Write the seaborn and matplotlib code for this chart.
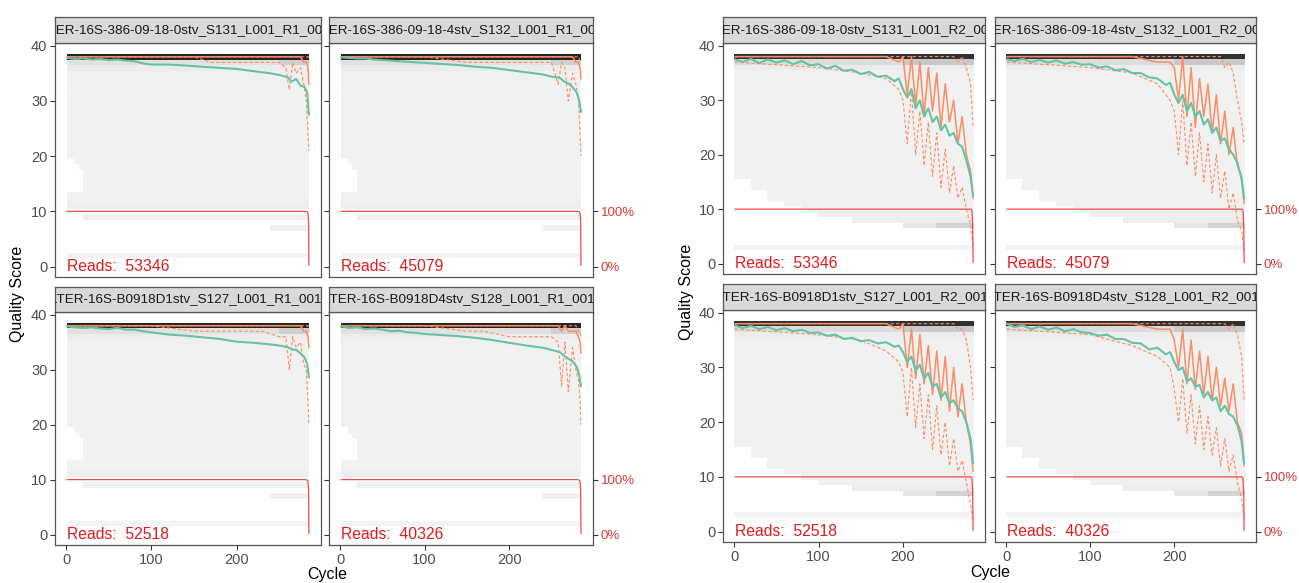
import matplotlib
matplotlib.use("Agg")
import matplotlib.pyplot as plt
import seaborn as sns

# ================== DATA ==================
SAMPLES_R1 = [
    "FILTER-16S-386-09-18-0stv_S131_L001_R1_001.fq",
    "FILTER-16S-386-09-18-4stv_S132_L001_R1_001.fq",
    "FILTER-16S-B0918D1stv_S127_L001_R1_001.fq",
    "FILTER-16S-B0918D4stv_S128_L001_R1_001.fq",
]
SAMPLES_R2 = [s.replace("_R1_", "_R2_") for s in SAMPLES_R1]
READS = [53346, 45079, 52518, 40326]

# mean quality per cycle (green line)
R1_CYCLES = [1, 10, 20, 30, 40, 50, 60, 70, 80, 90, 100, 120, 140, 160, 180,
             200, 220, 240, 250, 260, 265, 270, 275, 280, 283, 285]
R1_MEAN = [
    [37.8, 37.6, 37.7, 37.5, 37.6, 37.4, 37.5, 37.3, 37.2, 36.8, 36.6, 36.6, 36.4,
     36.2, 36.0, 35.8, 35.4, 35.0, 34.7, 34.3, 33.5, 34.0, 32.8, 32.5, 31.5, 27.5],
    [37.9, 37.8, 37.7, 37.7, 37.5, 37.4, 37.3, 37.2, 37.1, 37.0, 36.9, 36.7, 36.5,
     36.2, 36.0, 35.6, 35.2, 34.8, 34.4, 34.2, 33.5, 33.2, 32.5, 31.5, 30.0, 28.0],
    [37.9, 37.7, 37.6, 37.7, 37.5, 37.4, 37.6, 37.3, 37.3, 37.0, 36.8, 36.4, 36.2,
     35.9, 35.6, 35.1, 34.9, 34.6, 34.4, 34.1, 33.7, 33.6, 33.0, 32.2, 31.0, 28.6],
    [37.9, 37.6, 37.7, 37.4, 37.5, 37.3, 37.0, 37.1, 36.8, 36.7, 36.5, 36.3, 36.1,
     35.8, 35.4, 34.9, 34.4, 34.0, 33.6, 33.2, 32.5, 32.0, 31.5, 30.5, 29.0, 27.0],
]
# median / quartiles (orange lines)
R1_QCYC = [1, 50, 100, 150, 170, 200, 230, 250, 258, 262, 266, 270, 275, 279, 282, 284, 285]
R1_MEDIAN = [
    [38, 38, 38, 38, 38, 38, 38, 38, 38, 38, 38, 38, 38, 37, 37, 36, 33],
    [38, 38, 38, 38, 38, 38, 38, 38, 38, 38, 38, 38, 38, 37, 37, 36, 34],
    [38, 38, 38, 38, 38, 38, 38, 38, 38, 38, 38, 38, 38, 37, 37, 36, 34],
    [38, 38, 38, 38, 38, 38, 38, 38, 38, 37, 38, 37, 37, 37, 36, 35, 33],
]
R1_Q25 = [
    [38, 38, 38, 38, 37, 37, 37, 37, 36, 32, 37, 35, 36, 33, 30, 24, 21],
    [38, 38, 38, 37, 37, 37, 37, 37, 33, 37, 36, 30, 35, 33, 30, 24, 20],
    [38, 38, 38, 37, 37, 37, 37, 36, 36, 30, 36, 34, 35, 31, 30, 24, 20],
    [38, 38, 38, 37, 37, 36, 36, 36, 35, 27, 35, 26, 34, 30, 28, 24, 20],
]
R1_Q75 = [
    [38, 38, 38, 38, 38, 38, 38, 38, 38, 38, 38, 38, 38, 38, 38, 38, 37],
    [38, 38, 38, 38, 38, 38, 38, 38, 38, 38, 38, 38, 38, 38, 38, 37, 37],
    [38, 38, 38, 38, 38, 38, 38, 38, 38, 38, 38, 38, 38, 38, 38, 38, 37],
    [38, 38, 38, 38, 38, 38, 38, 38, 38, 38, 38, 38, 38, 38, 37, 37, 36],
]

R2_CYCLES = [1, 10, 20, 30, 40, 50, 60, 70, 80, 90, 100, 110, 120, 130, 140, 150,
             160, 170, 180, 190, 195, 200, 205, 210, 215, 220, 225, 230, 235, 240,
             245, 250, 255, 260, 265, 270, 275, 280, 283]
R2_MEAN = [
    [37.5, 37.0, 37.6, 36.8, 37.5, 36.9, 37.3, 36.6, 37.2, 36.4, 36.6, 35.8, 36.3,
     35.4, 35.6, 34.8, 35.2, 34.3, 34.5, 33.5, 34.0, 32.0, 30.5, 32.0, 28.5, 30.0,
     27.0, 28.5, 26.0, 27.0, 24.5, 25.5, 23.5, 24.0, 22.0, 21.5, 19.0, 16.0, 12.5],
    [37.5, 37.2, 37.6, 37.0, 37.4, 36.9, 37.3, 36.7, 37.0, 36.5, 36.6, 36.0, 36.2,
     35.5, 35.7, 35.0, 35.0, 34.2, 34.0, 32.8, 33.2, 31.0, 29.5, 31.0, 28.0, 29.5,
     27.0, 28.0, 25.5, 26.5, 24.0, 25.0, 22.5, 23.0, 21.0, 20.0, 18.5, 15.5, 12.0],
    [37.7, 37.2, 37.6, 37.0, 37.4, 36.8, 37.2, 36.6, 36.9, 36.3, 36.4, 35.8, 36.0,
     35.2, 35.4, 34.8, 35.0, 34.4, 34.6, 33.8, 34.0, 32.8, 31.0, 32.0, 29.5, 30.5,
     28.0, 29.0, 26.5, 27.0, 24.5, 25.5, 23.5, 24.0, 22.5, 22.0, 20.0, 17.0, 12.5],
    [38.0, 37.4, 37.7, 37.0, 37.5, 36.9, 37.3, 36.6, 37.0, 36.4, 36.3, 35.8, 36.0,
     35.2, 35.2, 34.5, 34.4, 33.3, 33.6, 32.4, 32.8, 31.0, 29.5, 30.0, 27.5, 28.0,
     26.5, 26.8, 24.5, 25.5, 24.0, 24.5, 22.0, 23.0, 21.5, 21.0, 19.5, 16.5, 12.5],
]
R2_QCYC = [1, 100, 150, 180, 195, 200, 205, 210, 215, 220, 225, 230, 235, 240,
           245, 250, 255, 260, 265, 270, 275, 280, 283]
R2_MEDIAN = [
    [38, 38, 38, 38, 37, 38, 31, 38, 29, 37, 27, 36, 28, 35, 25, 33, 26, 30, 22, 27, 20, 17, 12],
    [38, 38, 38, 37, 37, 36, 30, 38, 27, 36, 25, 34, 27, 33, 24, 31, 22, 28, 20, 25, 18, 16, 11],
    [38, 38, 38, 38, 37, 38, 30, 37, 28, 36, 27, 34, 25, 33, 24, 32, 22, 30, 21, 27, 20, 16, 11],
    [38, 38, 38, 37, 37, 35, 30, 37, 27, 35, 26, 33, 25, 32, 24, 30, 23, 28, 22, 27, 20, 18, 12],
]
R2_Q25 = [
    [37, 36, 35, 34, 32, 30, 22, 32, 20, 28, 18, 26, 16, 24, 14, 21, 13, 18, 12, 14, 10, 7, 3],
    [37, 36, 35, 33, 30, 28, 20, 30, 18, 26, 16, 24, 15, 22, 13, 20, 12, 17, 10, 13, 8, 6, 2],
    [37, 36, 35, 33, 31, 29, 21, 30, 19, 27, 17, 25, 15, 23, 14, 20, 12, 17, 11, 13, 9, 5, 2],
    [37, 36, 34, 32, 30, 26, 20, 28, 18, 25, 16, 23, 15, 21, 14, 19, 12, 17, 11, 14, 9, 6, 2],
]
R2_Q75 = [
    [38, 38, 38, 38, 38, 38, 38, 38, 38, 38, 38, 38, 38, 38, 38, 38, 38, 38, 37, 38, 36, 33, 25],
    [38, 38, 38, 38, 38, 38, 38, 38, 38, 38, 38, 38, 38, 38, 38, 38, 38, 36, 37, 35, 30, 26, 22],
    [38, 38, 38, 38, 38, 38, 38, 38, 38, 38, 38, 38, 38, 38, 38, 38, 38, 38, 37, 37, 35, 30, 24],
    [38, 38, 38, 38, 38, 38, 38, 38, 38, 38, 38, 38, 38, 38, 38, 38, 38, 38, 37, 38, 36, 32, 24],
]

# share of reads reaching each cycle (red line, 10 == 100%)
R1_CUM_CYC = [1, 281, 283, 284, 284.6, 285]
R1_CUM = [10, 10, 9.9, 9.6, 8.0, 0.2]
R2_CUM_CYC = [1, 280, 281.5, 282, 282.6, 283]
R2_CUM = [10, 10, 9.8, 8.8, 6.0, 0.2]

# grey count tiles: quality score, first cycle, last cycle, darkness (0..1)
R1_TILE_Q = [38, 37, 37, 36, 35, 34, 33, 32, 31, 30, 29, 28, 27, 26, 25, 24, 23, 22,
             21, 20, 19, 18, 17, 16, 15, 14, 13, 12, 11, 9, 7, 2]
R1_TILE_START = [1, 1, 250, 1, 1, 1, 1, 1, 1, 1, 1, 1, 1, 1, 1, 1, 1, 1,
                 1, 1, 10, 15, 20, 20, 20, 20, 1, 1, 1, 20, 240, 1]
R1_TILE_END = [285, 250, 285, 285, 285, 285, 285, 285, 285, 285, 285, 285, 285, 285, 285,
               285, 285, 285, 285, 285, 285, 285, 285, 285, 285, 285, 285, 285, 285, 285, 285, 285]
R1_TILE_SHADE = [0.85, 0.08, 0.15, 0.035, 0.02, 0.018, 0.015, 0.01, 0.015, 0.015, 0.015,
                 0.015, 0.015, 0.015, 0.015, 0.015, 0.015, 0.015, 0.015, 0.015, 0.012,
                 0.012, 0.012, 0.012, 0.01, 0.01, 0.012, 0.02, 0.028, 0.018, 0.02, 0.008]

R2_TILE_Q = [38, 37, 37, 36, 35, 34, 33, 32, 31, 30, 29, 28, 27, 26, 25, 24, 23, 22,
             21, 20, 19, 18, 17, 16, 15, 14, 13, 12, 11, 10, 9, 8, 7, 7, 3]
R2_TILE_START = [1, 1, 200, 1, 1, 1, 1, 1, 1, 1, 1, 1, 1, 1, 1, 1, 1, 1,
                 1, 1, 1, 1, 1, 1, 20, 20, 40, 40, 60, 80, 100, 140, 200, 240, 1]
R2_TILE_END = [283] * 35
R2_TILE_SHADE = [0.80, 0.10, 0.18, 0.035, 0.02, 0.018, 0.015, 0.015, 0.015, 0.015, 0.015,
                 0.015, 0.015, 0.015, 0.015, 0.015, 0.015, 0.015, 0.015, 0.015, 0.015,
                 0.015, 0.015, 0.015, 0.015, 0.015, 0.015, 0.015, 0.02, 0.02, 0.02, 0.03,
                 0.06, 0.14, 0.008]

# ================== STYLE ==================
sns.set_theme(style="white")
plt.rcParams["font.family"] = ["Liberation Sans", "DejaVu Sans"]

W, H = 1299, 583
MEAN_COL = "#66C2A5"
QUANT_COL = "#FC8D62"
RED = "#E41A1C"
BORDER = "#555555"
TICK_TXT = "#4D4D4D"


def rect(x0, y0, x1, y1):
    return [x0 / W, 1 - y1 / H, (x1 - x0) / W, (y1 - y0) / H]


def tile_colors(shades):
    return [(0.96 * (1 - s),) * 3 for s in shades]


def draw_facet(fig, box, strip_box, name, reads, d, i, show_x, show_y, show_sec):
    ax = fig.add_axes(rect(*box))
    tq, ts, te, tsh = d["tiles"]
    ax.barh(tq, [e - s + 1 for s, e in zip(ts, te)], height=1,
            left=[s - 0.5 for s in ts], color=tile_colors(tsh), linewidth=0)
    sns.lineplot(x=d["qcyc"], y=d["q25"][i], ax=ax, color=QUANT_COL, lw=0.8, linestyle=(0, (3, 2)))
    sns.lineplot(x=d["qcyc"], y=d["q75"][i], ax=ax, color=QUANT_COL, lw=0.8, linestyle=(0, (3, 2)))
    sns.lineplot(x=d["qcyc"], y=d["median"][i], ax=ax, color=QUANT_COL, lw=1.1)
    sns.lineplot(x=d["cycles"], y=d["mean"][i], ax=ax, color=MEAN_COL, lw=1.5)
    sns.lineplot(x=d["cum_cyc"], y=d["cum"], ax=ax, color="#EE4A4A", lw=0.9)
    ax.text(1, 0, f"Reads:  {reads}", color=RED, fontsize=11.3, ha="left", va="center")

    ax.set_xlim(*d["xlim"])
    ax.set_ylim(-1.9, 40.5)
    ax.set_xlabel("")
    ax.set_ylabel("")
    for sp in ax.spines.values():
        sp.set_color(BORDER)
        sp.set_linewidth(0.9)
    ax.set_xticks([0, 100, 200])
    ax.set_yticks([0, 10, 20, 30, 40])
    ax.tick_params(axis="both", length=3.5, width=0.8, color="#333333",
                   labelcolor=TICK_TXT, labelsize=10.5, pad=2,
                   bottom=show_x, labelbottom=show_x, left=show_y, labelleft=show_y)
    if show_sec:
        sec = ax.twinx()
        sec.set_ylim(ax.get_ylim())
        sec.set_yticks([0, 10])
        sec.set_yticklabels(["0%", "100%"])
        sec.tick_params(axis="y", length=3.5, width=0.8, color="#333333",
                        labelcolor="#D63A3A", labelsize=9.5, pad=2)
        for sp in sec.spines.values():
            sp.set_visible(False)

    sx = fig.add_axes(rect(*strip_box))
    sx.set_facecolor("#D9D9D9")
    sx.set_xticks([])
    sx.set_yticks([])
    for sp in sx.spines.values():
        sp.set_color(BORDER)
        sp.set_linewidth(0.9)
    sx.text(0.5, 0.47, name, transform=sx.transAxes, ha="center", va="center",
            fontsize=9.7, color="#1A1A1A", clip_on=True)


R1 = dict(tiles=(R1_TILE_Q, R1_TILE_START, R1_TILE_END, R1_TILE_SHADE),
          cycles=R1_CYCLES, mean=R1_MEAN, qcyc=R1_QCYC, median=R1_MEDIAN,
          q25=R1_Q25, q75=R1_Q75, cum_cyc=R1_CUM_CYC, cum=R1_CUM, xlim=(-13.2, 299.2))
R2 = dict(tiles=(R2_TILE_Q, R2_TILE_START, R2_TILE_END, R2_TILE_SHADE),
          cycles=R2_CYCLES, mean=R2_MEAN, qcyc=R2_QCYC, median=R2_MEDIAN,
          q25=R2_Q25, q75=R2_Q75, cum_cyc=R2_CUM_CYC, cum=R2_CUM, xlim=(-13.1, 297.1))

fig = plt.figure(figsize=(W / 100, H / 100), dpi=100)

blocks = [
    (R1, SAMPLES_R1, [(55, 321), (329, 593)], [((17, 43), (43, 277)), ((287, 312), (312, 545))],
     (18, 294), (327, 575)),
    (R2, SAMPLES_R2, [(723, 985), (995, 1256)], [((17, 43), (43, 274)), ((284, 310), (310, 542))],
     (687, 292), (990, 572)),
]

for d, names, cols, rows, ylab, xlab in blocks:
    for i in range(4):
        r, c = divmod(i, 2)
        (x0, x1) = cols[c]
        (s0, s1), (p0, p1) = rows[r]
        draw_facet(fig, (x0, p0, x1, p1), (x0, s0, x1, s1), names[i], READS[i], d, i,
                   show_x=(r == 1), show_y=(c == 0), show_sec=(c == 1))
    fig.text(ylab[0] / W, 1 - ylab[1] / H, "Quality Score", rotation=90,
             ha="center", va="center", fontsize=11.5, color="black")
    fig.text(xlab[0] / W, 1 - xlab[1] / H, "Cycle", ha="center", va="center",
             fontsize=11.5, color="black")

fig.savefig("out.png", dpi=100)
plt.close(fig)
